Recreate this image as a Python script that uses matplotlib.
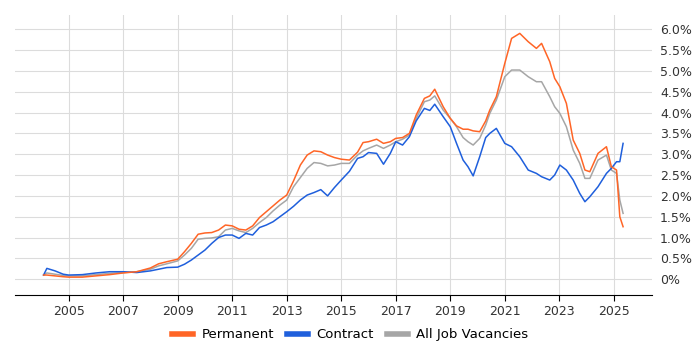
import numpy as np
import matplotlib
matplotlib.use('Agg')
import matplotlib.pyplot as plt

# sample dates (decimal years)
years = [2004.08, 2004.2, 2004.5, 2004.8, 2005.0, 2005.5, 2006.0, 2006.5, 2007.0, 2007.5,
         2008.0, 2008.3, 2008.6, 2009.0, 2009.25, 2009.5, 2009.75, 2010.0, 2010.25, 2010.5,
         2010.75, 2011.0, 2011.25, 2011.5, 2011.75, 2012.0, 2012.25, 2012.5, 2012.75, 2013.0,
         2013.25, 2013.5, 2013.75, 2014.0, 2014.25, 2014.5, 2014.75, 2015.0, 2015.3, 2015.6,
         2015.8, 2016.0, 2016.3, 2016.55, 2016.8, 2017.0, 2017.25, 2017.5, 2017.75, 2018.05,
         2018.25, 2018.43, 2018.74, 2019.0, 2019.23, 2019.47, 2019.65, 2019.84, 2020.08, 2020.3,
         2020.45, 2020.69, 2021.0, 2021.25, 2021.55, 2021.86, 2022.16, 2022.35, 2022.65, 2022.83,
         2023.02, 2023.26, 2023.51, 2023.75, 2023.94, 2024.12, 2024.42, 2024.73, 2024.91, 2025.1,
         2025.22, 2025.34]

permanent = [0.10, 0.10, 0.08, 0.06, 0.05, 0.05, 0.08, 0.11, 0.15, 0.18,
             0.27, 0.37, 0.42, 0.48, 0.66, 0.86, 1.08, 1.11, 1.12, 1.18,
             1.30, 1.28, 1.20, 1.18, 1.28, 1.48, 1.62, 1.76, 1.90, 2.02,
             2.36, 2.74, 2.98, 3.08, 3.06, 2.98, 2.92, 2.88, 2.86, 3.05,
             3.28, 3.30, 3.36, 3.26, 3.30, 3.38, 3.40, 3.50, 3.94, 4.34,
             4.40, 4.56, 4.14, 3.86, 3.68, 3.60, 3.60, 3.56, 3.54, 3.80,
             4.06, 4.38, 5.18, 5.78, 5.90, 5.70, 5.54, 5.66, 5.22, 4.82,
             4.62, 4.22, 3.34, 3.02, 2.62, 2.58, 3.02, 3.18, 2.70, 2.62,
             1.50, 1.26]

contract = [0.10, 0.26, 0.20, 0.12, 0.10, 0.11, 0.15, 0.18, 0.18, 0.16,
            0.20, 0.24, 0.28, 0.29, 0.36, 0.46, 0.58, 0.70, 0.86, 1.00,
            1.06, 1.06, 0.98, 1.10, 1.06, 1.24, 1.30, 1.38, 1.50, 1.62,
            1.75, 1.90, 2.02, 2.08, 2.15, 2.00, 2.20, 2.38, 2.59, 2.90,
            2.94, 3.04, 3.02, 2.76, 3.02, 3.30, 3.22, 3.42, 3.80, 4.10,
            4.05, 4.20, 3.90, 3.66, 3.26, 2.86, 2.70, 2.48, 2.94, 3.40,
            3.50, 3.62, 3.26, 3.18, 2.94, 2.62, 2.54, 2.46, 2.38, 2.50,
            2.74, 2.62, 2.38, 2.06, 1.86, 1.98, 2.22, 2.54, 2.66, 2.82,
            2.82, 3.26]

all_jobs = [0.10, 0.15, 0.12, 0.09, 0.08, 0.08, 0.11, 0.14, 0.16, 0.18,
            0.24, 0.32, 0.37, 0.44, 0.58, 0.74, 0.96, 0.98, 0.99, 1.02,
            1.18, 1.22, 1.16, 1.12, 1.22, 1.36, 1.48, 1.64, 1.78, 1.90,
            2.22, 2.44, 2.66, 2.80, 2.78, 2.72, 2.74, 2.78, 2.78, 2.98,
            3.08, 3.14, 3.22, 3.14, 3.22, 3.30, 3.36, 3.46, 3.86, 4.26,
            4.30, 4.40, 4.06, 3.86, 3.66, 3.40, 3.30, 3.22, 3.38, 3.70,
            3.98, 4.30, 4.86, 5.02, 5.02, 4.86, 4.74, 4.74, 4.38, 4.14,
            3.98, 3.66, 3.10, 2.78, 2.42, 2.42, 2.86, 2.98, 2.62, 2.54,
            1.90, 1.58]

year_ticks = [2005, 2007, 2009, 2011, 2013, 2015, 2017, 2019, 2021, 2023, 2025]
pct_ticks = [0, 0.5, 1.0, 1.5, 2.0, 2.5, 3.0, 3.5, 4.0, 4.5, 5.0, 5.5, 6.0]

fig = plt.figure(figsize=(7, 3.5), dpi=100)
ax = fig.add_axes([0.021, 0.157, 0.91, 0.8])

ax.plot(years, all_jobs, color='#a6a6a6', lw=1.1, label='All Job Vacancies', zorder=3)
ax.plot(years, contract, color='#1f5fdc', lw=1.1, label='Contract', zorder=4)
ax.plot(years, permanent, color='#ff6526', lw=1.1, label='Permanent', zorder=5)

ax.set_xlim(2003.02, 2026.39)
ax.set_ylim(-0.38, 6.34)
ax.set_xticks(year_ticks)
ax.set_xticklabels([str(y) for y in year_ticks], fontsize=9, color='#333333')
ax.set_yticks(pct_ticks)
ax.set_yticklabels(['0%'] + ['%.1f%%' % v for v in pct_ticks[1:]], fontsize=9, color='#333333')
ax.yaxis.tick_right()
ax.tick_params(axis='y', length=0, pad=6)
ax.tick_params(axis='x', length=4, color='black', direction='out')

ax.grid(True, color='#dcdcdc', lw=0.8)
ax.set_axisbelow(True)
for s in ['top', 'left', 'right']:
    ax.spines[s].set_visible(False)
ax.spines['bottom'].set_color('black')

h, l = ax.get_legend_handles_labels()
order = [2, 1, 0]
leg = fig.legend([h[i] for i in order], [l[i] for i in order], loc='center',
                 bbox_to_anchor=(0.5, 0.043), ncol=3, frameon=False, fontsize=9.5,
                 handlelength=1.6, columnspacing=1.0, handletextpad=0.6)
for line in leg.get_lines():
    line.set_linewidth(4)

fig.savefig('out.png', dpi=100)
